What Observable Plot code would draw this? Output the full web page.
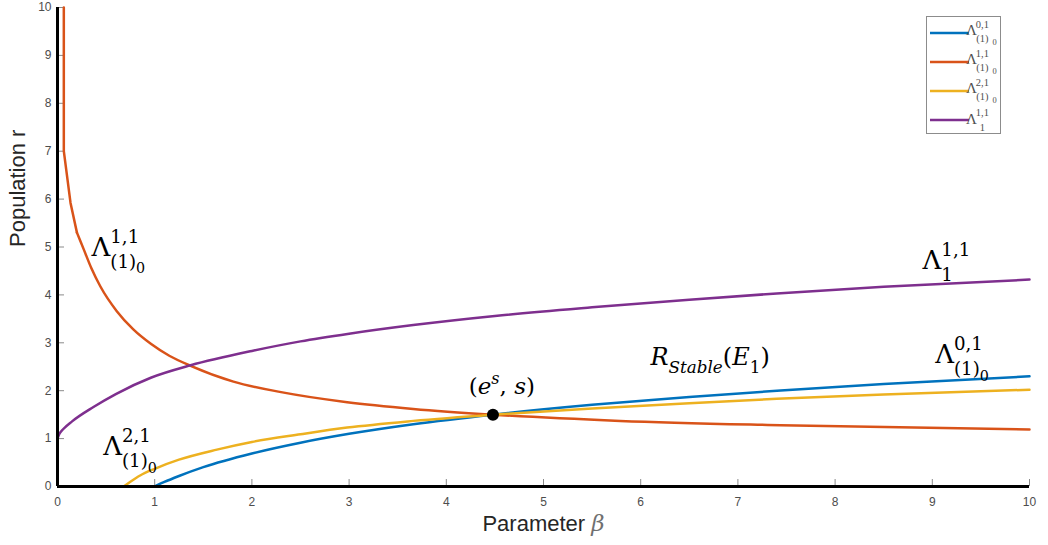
<!DOCTYPE html>
<html><head><meta charset="utf-8">
<script src="https://cdn.jsdelivr.net/npm/d3@7"></script>
<script src="https://cdn.jsdelivr.net/npm/@observablehq/plot@0.6"></script>
<style>body{margin:0;background:#fff;} svg{display:block;}</style>
</head><body><div id="chart"></div>
<script>
// ---- data ----
const xTicks = [0,1,2,3,4,5,6,7,8,9,10];
const yTicks = [0,1,2,3,4,5,6,7,8,9,10];

const seriesNames = ["Λ01", "Λ11_0", "Λ21", "Λ11_1"];
const legendLabels = ["Λ^{0,1}_{(1)_0}", "Λ^{1,1}_{(1)_0}", "Λ^{2,1}_{(1)_0}", "Λ^{1,1}_{1}"];

// blue  Λ^{0,1}_{(1)0}
const lambda01 = [[1.0,0],[1.1,0.095],[1.25,0.22],[1.5,0.405],[2.0,0.69],[2.5,0.915],[3.0,1.1],[3.66,1.3],[4.48,1.5],[5.5,1.705],[6.5,1.87],[7.44,2.005],[8.5,2.14],[10,2.3]];
// orange Λ^{1,1}_{(1)0} (steep polyline top, then smooth part)
const lambda11Top = [[0.065,10],[0.065,7.0],[0.134,5.92],[0.2,5.3]];
const lambda11 = [[0.2,5.3],[0.27,4.95],[0.35,4.55],[0.44,4.18],[0.61,3.66],[0.78,3.28],[0.96,2.98],[1.15,2.73],[1.37,2.52],[1.81,2.19],[2.3,1.97],[2.98,1.76],[3.66,1.62],[4.48,1.5],[5.79,1.37],[7.44,1.28],[10,1.19]];
// yellow Λ^{2,1}_{(1)0}
const lambda21 = [[0.68,0],[0.75,0.1],[0.85,0.23],[1.0,0.37],[1.25,0.56],[1.64,0.77],[2.0,0.93],[2.5,1.09],[2.98,1.23],[3.66,1.37],[4.48,1.5],[5.5,1.63],[6.5,1.74],[7.4,1.83],[8.5,1.92],[10,2.02]];
// purple Λ^{1,1}_1
const lambda1 = [[0,1.0],[0.02,1.1],[0.06,1.2],[0.15,1.36],[0.37,1.66],[0.6,1.93],[0.96,2.27],[1.37,2.53],[2.0,2.83],[2.5,3.03],[3.0,3.19],[3.66,3.37],[4.5,3.56],[5.5,3.74],[6.5,3.9],[7.4,4.03],[8.5,4.17],[10,4.32]];

const equilibrium = [{beta: 4.48, r: 1.5}];

const lambdaLabels = [
  {text: "Λ^{1,1}_{(1)_0}", beta: 0.35, r: 4.82},
  {text: "Λ^{2,1}_{(1)_0}", beta: 0.47, r: 0.65},
  {text: "Λ^{1,1}_{1}", beta: 8.90, r: 4.55},
  {text: "Λ^{0,1}_{(1)_0}", beta: 9.03, r: 2.57}
];
const stableLabel = [{text: "R_{Stable}(E_{1})", beta: 6.10, r: 2.53}];
const pointLabel = [{text: "(e^{s}, s)", beta: 4.23, r: 1.94}];

// ---- styles ----
const colors = ["#0072BD", "#D95319", "#EDB120", "#7E2F8E"];
const toRows = (arr, s) => arr.map(([beta, r]) => ({beta, r, series: s}));

const mainRows = [
  ...toRows(lambda01, seriesNames[0]),
  ...toRows(lambda11, seriesNames[1]),
  ...toRows(lambda21, seriesNames[2]),
  ...toRows(lambda1, seriesNames[3])
];
const topRows = toRows(lambda11Top, seriesNames[1]);

const mathFont = "DejaVu Serif, serif";

const chart = Plot.plot({
  width: 1048, height: 545,
  marginLeft: 57, marginRight: 19, marginTop: 7, marginBottom: 59,
  style: {fontFamily: "Liberation Sans, Arial, sans-serif", background: "white", color: "black"},
  x: {domain: [0, 10]},
  y: {domain: [0, 10]},
  color: {domain: seriesNames, range: colors},
  marks: [
    Plot.tickX(xTicks, {x: d => d, insetTop: 472, stroke: "#8a8a8a", strokeWidth: 1}),
    Plot.tickY(yTicks, {y: d => d, insetRight: 965, stroke: "#8a8a8a", strokeWidth: 1}),
    Plot.axisX(xTicks, {tickSize: 0, tickPadding: 11, fontSize: 12, color: "#4d4d4d", label: null}),
    Plot.axisY(yTicks, {tickSize: 0, tickPadding: 6, fontSize: 12, color: "#4d4d4d", label: null}),
    Plot.line(topRows, {x: "beta", y: "r", stroke: "series", strokeWidth: 2.5, curve: "linear"}),
    Plot.line(mainRows, {x: "beta", y: "r", stroke: "series", z: "series", strokeWidth: 2.5, curve: "monotone-x"}),
    Plot.ruleX([0], {stroke: "black", strokeWidth: 3}),
    Plot.ruleY([0], {stroke: "black", strokeWidth: 3}),
    Plot.dot(equilibrium, {x: "beta", y: "r", r: 6, fill: "black", stroke: "none"}),
    Plot.text(lambdaLabels, {x: "beta", y: "r", text: "text", textAnchor: "start", lineAnchor: "bottom", fontSize: 26, fontFamily: mathFont, fill: "black"}),
    Plot.text(stableLabel, {x: "beta", y: "r", text: "text", textAnchor: "start", lineAnchor: "bottom", fontSize: 24, fontFamily: mathFont, fill: "black"}),
    Plot.text(pointLabel, {x: "beta", y: "r", text: "text", textAnchor: "start", lineAnchor: "bottom", fontSize: 23, fontFamily: mathFont, fill: "black"}),
    Plot.text(["Parameter β"], {frameAnchor: "bottom", lineAnchor: "bottom", dy: 44, fontSize: 22, fill: "#262626"}),
    Plot.text(["Population r"], {frameAnchor: "left", rotate: -90, dx: -40, fontSize: 22, fill: "#262626"})
  ]
});
document.getElementById("chart").appendChild(chart);

// ---- simple math typesetting into tspans ----
const NS = "http://www.w3.org/2000/svg";
function parseMath(s) {
  let i = 0;
  function seq(inBrace) {
    const items = []; let buf = "";
    const flush = () => { if (buf) { items.push({type: "text", value: buf}); buf = ""; } };
    while (i < s.length) {
      const c = s[i];
      if (c === "}" && inBrace) { i++; break; }
      if (c === "^" || c === "_") {
        flush(); i++;
        let children;
        if (s[i] === "{") { i++; children = seq(true); }
        else { children = [{type: "text", value: s[i]}]; i++; }
        items.push({type: c === "^" ? "sup" : "sub", children});
      } else { buf += c; i++; }
    }
    flush();
    return items;
  }
  return seq(false);
}
function typeset(textEl, src, baseSize, opts = {}) {
  const scale = opts.scale || [1, 0.7, 0.55, 0.45];
  const italic = opts.italic !== false;
  const items = parseMath(src);
  textEl.textContent = "";
  textEl.removeAttribute("y");
  let cursor = 0;
  function put(str, level, shift) {
    const size = baseSize * scale[level];
    const runs = str.match(/[A-Za-z]+|[^A-Za-z]+/g) || [];
    for (const run of runs) {
      const t = document.createElementNS(NS, "tspan");
      t.setAttribute("x", cursor);
      t.setAttribute("y", shift);
      t.setAttribute("font-size", size);
      if (italic && /[A-Za-z]/.test(run)) t.setAttribute("font-style", "italic");
      t.textContent = run;
      textEl.appendChild(t);
      cursor += t.getComputedTextLength();
    }
  }
  function lay(list, level, shift) {
    const size = baseSize * scale[level];
    for (let k = 0; k < list.length; k++) {
      const it = list[k];
      if (it.type === "text") { put(it.value, level, shift); continue; }
      const next = list[k + 1];
      if (next && next.type !== "text" && next.type !== it.type) {
        const sup = it.type === "sup" ? it : next, sub = it.type === "sup" ? next : it;
        const x0 = cursor;
        lay(sup.children, level + 1, shift - 0.5 * size);
        const e1 = cursor; cursor = x0;
        lay(sub.children, level + 1, shift + 0.46 * size);
        cursor = Math.max(e1, cursor);
        k++;
      } else {
        lay(it.children, level + 1, shift + (it.type === "sup" ? -0.4 : 0.3) * size);
      }
    }
  }
  lay(items, 0, 0);
}

chart.querySelectorAll("text").forEach(t => {
  const s = t.textContent;
  if (/[\^_]/.test(s)) {
    typeset(t, s, parseFloat(getComputedStyle(t).fontSize));
  } else if (s === "Parameter β") {
    t.textContent = "Parameter ";
    const b = document.createElementNS(NS, "tspan");
    b.setAttribute("font-style", "italic");
    b.setAttribute("fill", "#707070");
    b.setAttribute("font-family", "DejaVu Serif, serif");
    b.setAttribute("font-size", 23);
    b.textContent = "β";
    t.appendChild(b);
  }
});

// ---- legend (inside the plot, top right) ----
const svg = d3.select(chart);
const lg = svg.append("g").attr("class", "legend");
lg.append("rect").attr("x", 926.5).attr("y", 16.5).attr("width", 74).attr("height", 117)
  .attr("fill", "white").attr("stroke", "#8c8c8c").attr("stroke-width", 1);
legendLabels.forEach((lab, i) => {
  const y = 33 + i * 29;
  lg.append("line").attr("x1", 930).attr("x2", 969).attr("y1", y).attr("y2", y)
    .attr("stroke", colors[i]).attr("stroke-width", 2.5);
  const t = lg.append("text").attr("x", 0).attr("y", 0)
    .attr("font-family", "Liberation Serif, Times New Roman, serif")
    .attr("fill", "#505050").attr("font-size", 15);
  typeset(t.node(), lab, 15, {italic: false, scale: [1, 0.7, 0.56]});
  const bb = t.node().getBBox();
  t.attr("transform", `translate(971.5,${y - (bb.y + bb.height / 2)})`);
});
</script></body></html>
